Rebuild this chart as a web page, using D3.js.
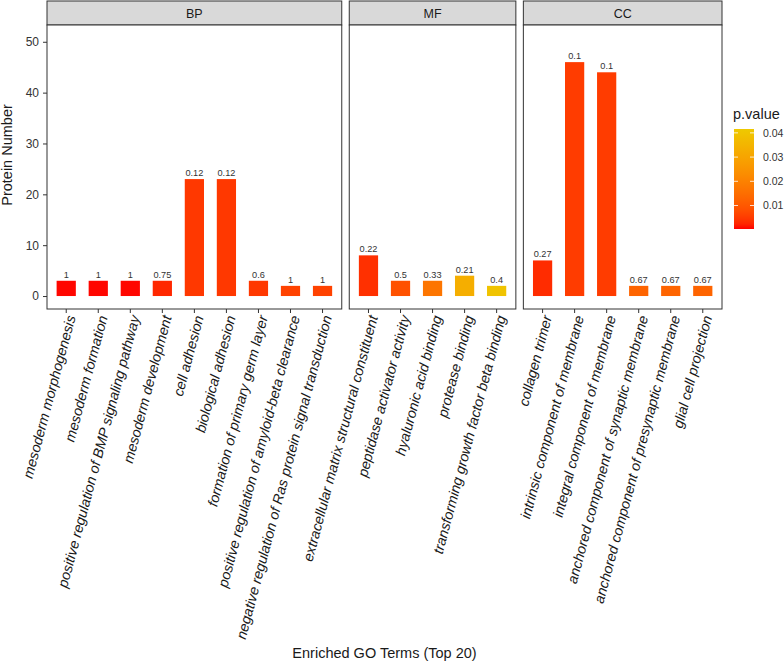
<!DOCTYPE html>
<html>
<head>
<meta charset="utf-8">
<script src="https://cdn.jsdelivr.net/npm/d3@7"></script>
<style>
  html, body { margin: 0; padding: 0; background: #fff; }
  svg { display: block; font-family: "Liberation Sans", Arial, Helvetica, sans-serif; }
</style>
</head>
<body>
<svg id="chart" width="784" height="666"></svg>
<script>
// ---------------- data ----------------
const groups = ["BP", "MF", "CC"];

const bpTerms = ["mesoderm morphogenesis", "mesoderm formation", "positive regulation of BMP signaling pathway",
  "mesoderm development", "cell adhesion", "biological adhesion", "formation of primary germ layer",
  "positive regulation of amyloid-beta clearance", "negative regulation of Ras protein signal transduction"];
const bpCounts = [3, 3, 3, 3, 23, 23, 3, 2, 2];
const bpLabels = ["1", "1", "1", "0.75", "0.12", "0.12", "0.6", "1", "1"];
const bpPvalues = [0.0005, 0.0005, 0.0005, 0.0025, 0.0045, 0.0045, 0.0045, 0.006, 0.006];

const mfTerms = ["extracellular matrix structural constituent", "peptidase activator activity",
  "hyaluronic acid binding", "protease binding", "transforming growth factor beta binding"];
const mfCounts = [8, 3, 3, 4, 2];
const mfLabels = ["0.22", "0.5", "0.33", "0.21", "0.4"];
const mfPvalues = [0.0035, 0.0086, 0.0168, 0.033, 0.0395];

const ccTerms = ["collagen trimer", "intrinsic component of membrane", "integral component of membrane",
  "anchored component of synaptic membrane", "anchored component of presynaptic membrane", "glial cell projection"];
const ccCounts = [7, 46, 44, 2, 2, 2];
const ccLabels = ["0.27", "0.1", "0.1", "0.67", "0.67", "0.67"];
const ccPvalues = [0.003, 0.005, 0.005, 0.0125, 0.0125, 0.0125];

const yTicks = [0, 10, 20, 30, 40, 50];
const legendTicks = [0.01, 0.02, 0.03, 0.04];
const pRange = [0.0003, 0.0416];

const xTitle = "Enriched GO Terms (Top 20)";
const yTitle = "Protein Number";
const legendTitle = "p.value";

// -------------- build -----------------
const panels = [
  { name: "BP", terms: bpTerms, counts: bpCounts, labels: bpLabels, p: bpPvalues },
  { name: "MF", terms: mfTerms, counts: mfCounts, labels: mfLabels, p: mfPvalues },
  { name: "CC", terms: ccTerms, counts: ccCounts, labels: ccLabels, p: ccPvalues }
];

const svg = d3.select("#chart");
const left = 47, right = 722, gap = 7.5;
const stripTop = 1, panelTop = 25, panelBottom = 309;

const totalUnits = d3.sum(panels, p => p.terms.length + 0.2);
const unit = (right - left - gap * (panels.length - 1)) / totalUnits;

const y = d3.scaleLinear().domain([-2.55, 53.3]).range([panelBottom, panelTop]);
const color = d3.scaleLinear().domain(pRange).range(["#FF0000", "#EEC900"]).interpolate(d3.interpolateLab);

const textCol = "#1a1a1a";
const borderCol = "#333333";

// y axis
const yAxis = svg.append("g").attr("transform", `translate(${left},0)`)
  .call(d3.axisLeft(y).tickValues(yTicks).tickSize(4).tickPadding(4));
yAxis.select(".domain").remove();
yAxis.selectAll(".tick line").attr("stroke", borderCol);
yAxis.selectAll(".tick text").attr("fill", "#333").style("font-size", "12px")
  .style("font-family", '"Liberation Sans", Arial, sans-serif');

svg.append("text")
  .attr("transform", `translate(12, ${(stripTop + panelBottom) / 2}) rotate(-90)`)
  .attr("text-anchor", "middle")
  .attr("fill", textCol).style("font-size", "14.5px")
  .text(yTitle);

let x0 = left;
panels.forEach(pn => {
  const w = unit * (pn.terms.length + 0.2);
  const x = d3.scaleBand().domain(pn.terms).range([x0, x0 + w]).paddingInner(0.4).paddingOuter(0.3);
  const g = svg.append("g");

  // strip
  g.append("rect").attr("x", x0).attr("y", stripTop).attr("width", w).attr("height", panelTop - stripTop)
    .attr("fill", "#D9D9D9").attr("stroke", borderCol).attr("stroke-width", 1);
  g.append("text").attr("x", x0 + w / 2).attr("y", (stripTop + panelTop) / 2 + 4.5)
    .attr("text-anchor", "middle").attr("fill", textCol).style("font-size", "12.5px").text(pn.name);

  // panel
  g.append("rect").attr("x", x0).attr("y", panelTop).attr("width", w).attr("height", panelBottom - panelTop)
    .attr("fill", "#fff");

  const rows = pn.terms.map((t, i) => ({ term: t, count: pn.counts[i], label: pn.labels[i], p: pn.p[i] }));

  g.selectAll("rect.bar").data(rows).enter().append("rect").attr("class", "bar")
    .attr("x", d => x(d.term)).attr("width", x.bandwidth())
    .attr("y", d => y(d.count)).attr("height", d => y(0) - y(d.count))
    .attr("fill", d => color(d.p));

  g.selectAll("text.val").data(rows).enter().append("text").attr("class", "val")
    .attr("x", d => x(d.term) + x.bandwidth() / 2).attr("y", d => y(d.count) - 3)
    .attr("text-anchor", "middle").attr("fill", "#333").style("font-size", "9.2px").text(d => d.label);

  g.append("rect").attr("x", x0).attr("y", panelTop).attr("width", w).attr("height", panelBottom - panelTop)
    .attr("fill", "none").attr("stroke", borderCol).attr("stroke-width", 1);

  // x axis
  const xa = svg.append("g").attr("transform", `translate(0,${panelBottom})`)
    .call(d3.axisBottom(x).tickSize(4).tickPadding(0));
  xa.select(".domain").remove();
  xa.selectAll(".tick line").attr("stroke", borderCol);
  xa.selectAll(".tick text")
    .attr("fill", textCol).style("font-size", "14.2px").style("font-style", "italic")
    .style("font-family", '"Liberation Sans", Arial, sans-serif')
    .attr("text-anchor", "end").attr("dy", null).attr("y", null)
    .attr("transform", "translate(9.5,8) rotate(-75)");

  x0 += w + gap;
});

svg.append("text").attr("x", (left + right) / 2).attr("y", 658)
  .attr("text-anchor", "middle").attr("fill", textCol).style("font-size", "14.5px").text(xTitle);

// legend
const lgX = 734, lgW = 20, lgTop = 129, lgBottom = 229;
const ly = d3.scaleLinear().domain(pRange).range([lgBottom, lgTop]);
svg.append("text").attr("x", 733).attr("y", 119).attr("fill", textCol).style("font-size", "14.5px").text(legendTitle);
const defs = svg.append("defs");
const grad = defs.append("linearGradient").attr("id", "lg").attr("x1", 0).attr("y1", 1).attr("x2", 0).attr("y2", 0);
d3.range(0, 1.0001, 0.05).forEach(t => {
  grad.append("stop").attr("offset", t).attr("stop-color", color(pRange[0] + t * (pRange[1] - pRange[0])));
});
svg.append("rect").attr("x", lgX).attr("y", lgTop).attr("width", lgW).attr("height", lgBottom - lgTop).attr("fill", "url(#lg)");
const lt = svg.append("g");
legendTicks.forEach(v => {
  lt.append("line").attr("x1", lgX).attr("x2", lgX + 4).attr("y1", ly(v)).attr("y2", ly(v)).attr("stroke", "#fff").attr("stroke-width", 0.8);
  lt.append("line").attr("x1", lgX + lgW - 4).attr("x2", lgX + lgW).attr("y1", ly(v)).attr("y2", ly(v)).attr("stroke", "#fff").attr("stroke-width", 0.8);
  lt.append("text").attr("x", 763).attr("y", ly(v) + 3.7).attr("fill", "#333").style("font-size", "10.5px").text(d3.format(".2f")(v));
});
</script>
</body>
</html>
